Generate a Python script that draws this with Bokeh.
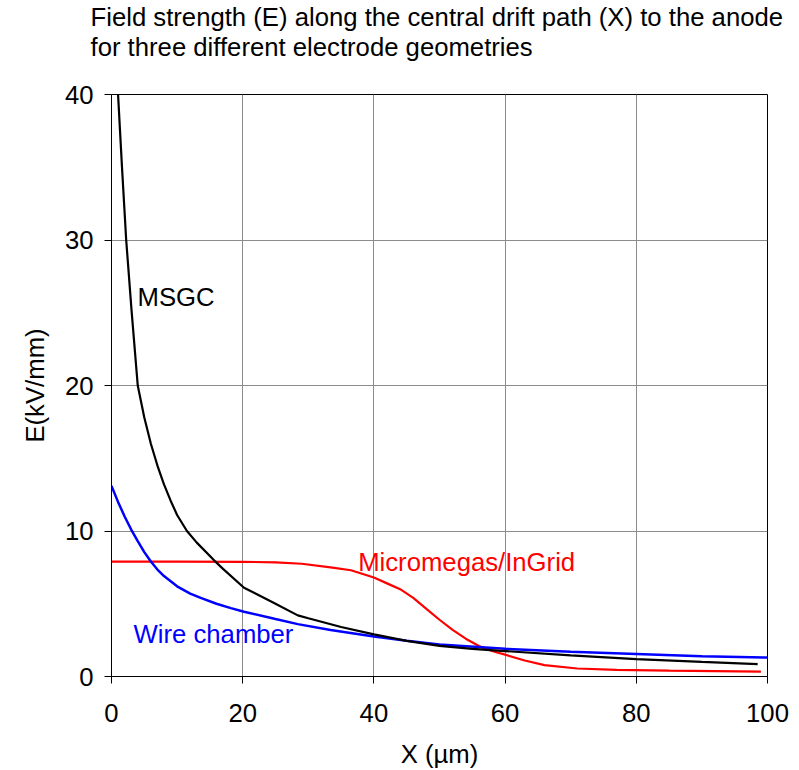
from bokeh.plotting import figure
from bokeh.models import Range1d, Title, Label, FixedTicker
from bokeh.embed import file_html
from bokeh.resources import INLINE

# ---- data ----
msgc_x = [1.0, 1.6, 2.24, 3.05, 4.0, 5.0, 6.0, 7.0, 8.0, 9.0, 10.0, 11.5, 13.0, 15.6,
          17.0, 20.2, 25.0, 28.4, 30.0, 35.0, 40.0, 45.0, 50.0, 55.0, 60.0, 70.0, 80.0,
          90.0, 98.5]
msgc_e = [40.0, 35.0, 30.0, 25.2, 20.0, 17.8, 16.0, 14.5, 13.2, 12.1, 11.1, 10.0, 9.2, 8.0,
          7.4, 6.1, 5.0, 4.2, 4.0, 3.4, 2.9, 2.45, 2.1, 1.9, 1.75, 1.45, 1.2,
          1.0, 0.85]

wire_x = [0.0, 1.0, 2.0, 3.0, 4.0, 5.0, 6.0, 7.0, 8.0, 10.0, 12.0, 13.6, 16.0, 18.2,
          20.2, 25.0, 28.4, 33.4, 40.0, 45.0, 50.0, 60.0, 70.0, 80.0, 90.0, 100.0]
wire_e = [13.1, 12.0, 11.0, 10.1, 9.3, 8.55, 7.9, 7.35, 6.9, 6.2, 5.7, 5.4, 5.0, 4.7,
          4.45, 3.95, 3.6, 3.2, 2.75, 2.45, 2.2, 1.9, 1.7, 1.55, 1.4, 1.3]

mm_x = [0.0, 10.0, 20.0, 25.0, 29.0, 33.4, 36.5, 40.0, 42.0, 44.0, 46.0, 48.0, 50.0,
        52.0, 54.0, 56.0, 58.0, 60.0, 63.0, 66.0, 71.0, 77.0, 85.0, 99.0]
mm_e = [7.9, 7.9, 7.88, 7.85, 7.75, 7.5, 7.3, 6.8, 6.4, 6.0, 5.4, 4.65, 3.9,
        3.2, 2.6, 2.1, 1.75, 1.5, 1.1, 0.78, 0.55, 0.45, 0.4, 0.34]

x_ticks = [0, 20, 40, 60, 80, 100]
y_ticks = [0, 10, 20, 30, 40]

title_line1 = "Field strength (E) along the central drift path (X) to the anode"
title_line2 = "for three different electrode geometries"
x_label = "X (µm)"
y_label = "E(kV/mm)"

FONT = "Liberation Sans"
FS = "25.7px"

p = figure(width=799, height=770, output_backend="svg", toolbar_location=None,
           x_range=Range1d(0, 100), y_range=Range1d(0, 40),
           min_border_left=111, min_border_right=32,
           min_border_top=94, min_border_bottom=94)

# spacer between title block and frame
p.add_layout(Title(text=" ", text_font=FONT, text_font_size="10px", standoff=21), "above")
p.add_layout(Title(text=title_line2, align="left", offset=-21, text_font=FONT,
                   text_font_size=FS, text_font_style="normal",
                   text_color="black", standoff=0), "above")
p.add_layout(Title(text=title_line1, align="left", offset=-21, text_font=FONT,
                   text_font_size=FS, text_font_style="normal",
                   text_color="black", standoff=0), "above")

p.background_fill_color = "white"
p.border_fill_color = "white"
p.outline_line_color = "black"
p.outline_line_width = 1

for ax in (p.xaxis[0], p.yaxis[0]):
    ax.axis_line_color = "black"
    ax.major_tick_line_color = "black"
    ax.major_tick_in = 0
    ax.major_tick_out = 7
    ax.minor_tick_line_color = None
    ax.major_label_text_font = FONT
    ax.major_label_text_font_size = FS
    ax.major_label_text_color = "black"
    ax.axis_label_text_font = FONT
    ax.axis_label_text_font_size = FS
    ax.axis_label_text_font_style = "normal"
    ax.axis_label_text_color = "black"

p.xaxis.ticker = FixedTicker(ticks=x_ticks)
p.yaxis.ticker = FixedTicker(ticks=y_ticks)
p.xaxis.axis_label = x_label
p.yaxis.axis_label = y_label
p.xaxis.major_label_standoff = 20
p.yaxis.major_label_standoff = 11
p.xaxis.axis_label_standoff = 15
p.yaxis.axis_label_standoff = 13

p.xgrid.ticker = FixedTicker(ticks=x_ticks)
p.ygrid.ticker = FixedTicker(ticks=y_ticks)
p.grid.grid_line_color = "#8c8c8c"
p.grid.grid_line_width = 1

p.line(mm_x, mm_e, line_color="#ff0000", line_width=2.2)
p.line(wire_x, wire_e, line_color="#0000ff", line_width=2.5)
p.line(msgc_x, msgc_e, line_color="#000000", line_width=2.2)

p.add_layout(Label(x=3.97, y=26.1, text="MSGC", text_font=FONT, text_font_size=FS,
                   text_color="black", text_baseline="middle", text_align="left"))
p.add_layout(Label(x=37.6, y=7.9, text="Micromegas/InGrid", text_font=FONT,
                   text_font_size=FS, text_color="#ff0000",
                   text_baseline="middle", text_align="left"))
p.add_layout(Label(x=3.36, y=2.95, text="Wire chamber", text_font=FONT,
                   text_font_size=FS, text_color="#0000ff",
                   text_baseline="middle", text_align="left"))

open("out.html", "w").write(file_html(p, INLINE))
